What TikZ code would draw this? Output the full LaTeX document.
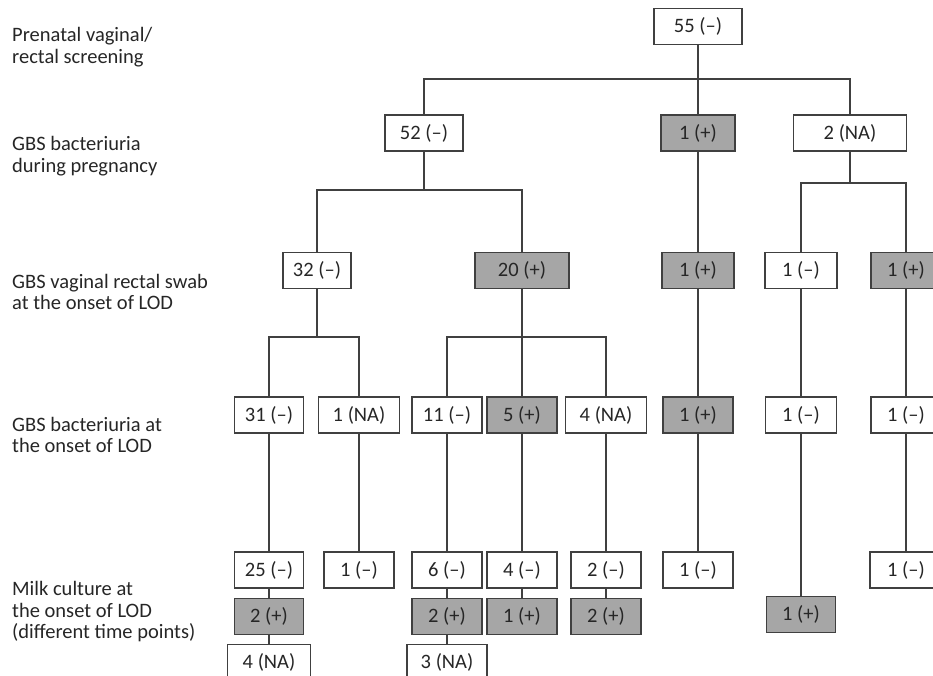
\documentclass[tikz,border=0pt]{standalone}
\usepackage{fontspec}
\setmainfont{Carlito}
\usetikzlibrary{positioning}

\begin{document}
\begin{tikzpicture}[x=1pt, y=-1pt, node distance=9pt]
\tikzset{
    box/.style={draw=black!75, line width=1.2pt, minimum width=70, minimum height=36, inner sep=0pt,
      font=\fontsize{20.5}{21.5}\selectfont, text=black!85},
    posbox/.style={box, fill=gray!70},
    stage/.style={anchor=west, align=left, inner sep=0pt, font=\fontsize{20.5}{21.5}\selectfont, text=black!85},
    link/.style={draw=black!75, line width=1.2pt},
  }
\useasboundingbox (0,0) rectangle (933,675);

\node (stage1) [stage] at (12,47) {Prenatal vaginal/\\rectal screening};
\node (stage2) [stage] at (12,156) {GBS bacteriuria\\during pregnancy};
\node (stage3) [stage] at (12,292) {GBS vaginal rectal swab\\at the onset of LOD};
\node (stage4) [stage] at (12,435) {GBS bacteriuria at\\the onset of LOD};
\node (stage5) [stage] at (12,612) {Milk culture at\\the onset of LOD\\(different time points)};

\node (screen) [box, minimum width=88] at (698,26.5) {55 (--)};

\node (preg_neg) [box, minimum width=78] at (424,133) {52 (--)};
\node (preg_pos) [posbox, minimum width=74] at (698,133) {1 (+)};
\node (preg_na) [box, minimum width=113] at (850,133) {2 (NA)};

\node (swab_neg) [box, minimum width=68] at (317,270.5) {32 (--)};
\node (swab_pos) [posbox, minimum width=94] at (522,270.5) {20 (+)};
\node (swab_pos_b) [posbox, minimum width=72] at (698,270.5) {1 (+)};
\node (swab_neg_c) [box, minimum width=72] at (801,270.5) {1 (--)};
\node (swab_pos_c) [posbox] at (906,270.5) {1 (+)};

\node (bact_neg_a) [box, minimum width=69] at (269,415) {31 (--)};
\node (bact_na_a) [box, minimum width=81] at (359,415) {1 (NA)};
\node (bact_neg_b) [box] at (447,415) {11 (--)};
\node (bact_pos_b) [posbox] at (522,415) {5 (+)};
\node (bact_na_b) [box, minimum width=81] at (606,415) {4 (NA)};
\node (bact_pos_c) [posbox] at (698,415) {1 (+)};
\node (bact_neg_d) [box, minimum width=71] at (801,415) {1 (--)};
\node (bact_neg_e) [box] at (906,415) {1 (--)};

\node (milk_a) [box, minimum width=69] at (269,570) {25 (--)};
\node (milk_b) [box] at (359,570) {1 (--)};
\node (milk_c) [box] at (447,570) {6 (--)};
\node (milk_d) [box] at (522,570) {4 (--)};
\node (milk_e) [box] at (606,570) {2 (--)};
\node (milk_f) [box] at (698,570) {1 (--)};
\node (milk_h) [box, minimum width=72] at (906,570) {1 (--)};

\node (milk_a2) [posbox, minimum width=69, below=of milk_a] {2 (+)};
\node (milk_c2) [posbox, below=of milk_c] {2 (+)};
\node (milk_d2) [posbox, below=of milk_d] {1 (+)};
\node (milk_e2) [posbox, below=of milk_e] {2 (+)};
\node (milk_g2) [posbox, minimum width=69] at (801,614.5) {1 (+)};

\node (milk_a3) [box, minimum width=83, below=of milk_a2] {4 (NA)};
\node (milk_c3) [box, minimum width=80, below=of milk_c2] {3 (NA)};

\coordinate (split_screen) at (698,79);
\coordinate (split_preg) at (424,190);
\coordinate (split_na) at (850,183);
\coordinate (split_swab_a) at (317,337);
\coordinate (split_swab_b) at (522,337);

\draw[link] (screen) -- (split_screen) -- (preg_pos);
\draw[link] (preg_neg.north) |- (split_screen) -| (preg_na.north);
\draw[link] (preg_neg) -- (split_preg);
\draw[link] (swab_neg.north) |- (split_preg) -| (swab_pos.north);
\draw[link] (preg_pos) -- (swab_pos_b);
\draw[link] (preg_na) -- (split_na);
\draw[link] (swab_neg_c.north) |- (split_na) -| (swab_pos_c.north);

\draw[link] (swab_neg) -- (split_swab_a);
\draw[link] (bact_neg_a.north) |- (split_swab_a) -| (bact_na_a.north);
\draw[link] (swab_pos) -- (bact_pos_b);
\draw[link] (bact_neg_b.north) |- (split_swab_b) -| (bact_na_b.north);
\draw[link] (swab_pos_b) -- (bact_pos_c);
\draw[link] (swab_neg_c) -- (bact_neg_d);
\draw[link] (swab_pos_c) -- (bact_neg_e);

\draw[link] (bact_neg_a) -- (milk_a) -- (milk_a2) -- (milk_a3);
\draw[link] (bact_na_a) -- (milk_b);
\draw[link] (bact_neg_b) -- (milk_c) -- (milk_c2) -- (milk_c3);
\draw[link] (bact_pos_b) -- (milk_d) -- (milk_d2);
\draw[link] (bact_na_b) -- (milk_e) -- (milk_e2);
\draw[link] (bact_pos_c) -- (milk_f);
\draw[link] (bact_neg_d) -- (milk_g2);
\draw[link] (bact_neg_e) -- (milk_h);
\end{tikzpicture}
\end{document}
